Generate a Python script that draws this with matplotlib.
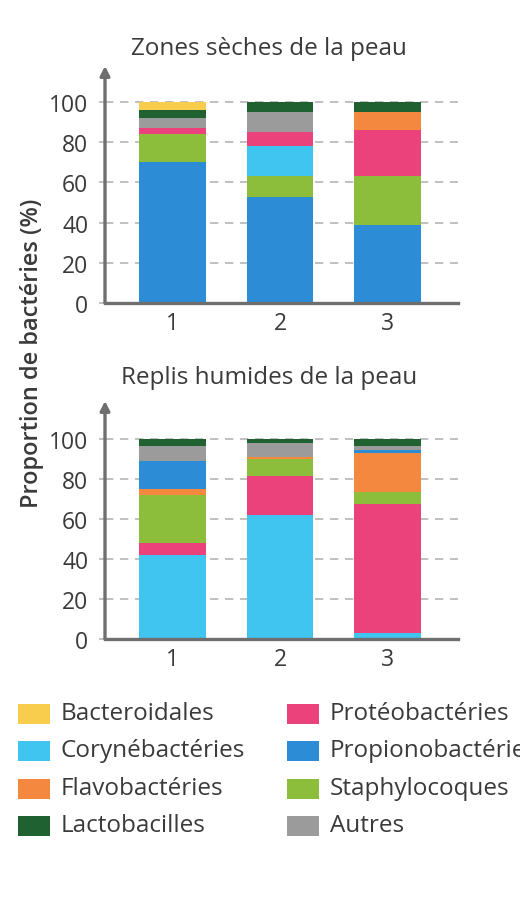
import numpy as np
import matplotlib.pyplot as plt
from matplotlib.patches import Rectangle

plt.rcParams['font.family'] = ['Open Sans', 'DejaVu Sans']

# categories, in legend order (column-wise)
categories = ["Bacteroidales", "Corynébactéries", "Flavobactéries", "Lactobacilles",
              "Protéobactéries", "Propionobactéries", "Staphylocoques", "Autres"]
colors = {"Bacteroidales": "#F8CC4C", "Corynébactéries": "#40C4F0",
          "Flavobactéries": "#F5883F", "Lactobacilles": "#1F6131",
          "Protéobactéries": "#EC427C", "Propionobactéries": "#2C8DD6",
          "Staphylocoques": "#8DBE3B", "Autres": "#9B9B9B"}

samples = ["1", "2", "3"]

# Zones sèches de la peau (%), bottom to top
dry_order = ["Propionobactéries", "Staphylocoques", "Corynébactéries", "Protéobactéries",
             "Flavobactéries", "Autres", "Lactobacilles", "Bacteroidales"]
dry_propiono = [70, 53, 39]
dry_staph = [14, 10, 24]
dry_coryne = [0, 15, 0]
dry_proteo = [3, 7, 23]
dry_flavo = [0, 0, 9]
dry_autres = [5, 10, 0]
dry_lacto = [4, 5, 5]
dry_bactero = [4, 0, 0]

# Replis humides de la peau (%), bottom to top
wet_order = ["Corynébactéries", "Protéobactéries", "Staphylocoques", "Flavobactéries",
             "Propionobactéries", "Autres", "Lactobacilles"]
wet_coryne = [42, 62, 3]
wet_proteo = [6, 19.5, 64.5]
wet_staph = [24, 8.5, 6]
wet_flavo = [3, 1, 19.5]
wet_propiono = [14, 0, 1.5]
wet_autres = [7.5, 7, 2]
wet_lacto = [3.5, 2, 3.5]

dry = {"Propionobactéries": dry_propiono, "Staphylocoques": dry_staph,
       "Corynébactéries": dry_coryne, "Protéobactéries": dry_proteo,
       "Flavobactéries": dry_flavo, "Autres": dry_autres,
       "Lactobacilles": dry_lacto, "Bacteroidales": dry_bactero}
wet = {"Corynébactéries": wet_coryne, "Protéobactéries": wet_proteo,
       "Staphylocoques": wet_staph, "Flavobactéries": wet_flavo,
       "Propionobactéries": wet_propiono, "Autres": wet_autres,
       "Lactobacilles": wet_lacto}

text_c = "#3a3a3a"
axis_c = "#6e6e6e"

fig = plt.figure(figsize=(5.2, 9.03), dpi=100)
W, H = 520, 903


def panel(rect, data, order, title, ymax, title_y):
    ax = fig.add_axes(rect)
    x = np.arange(1, len(samples) + 1)
    bottom = np.zeros(len(samples))
    for name in order:
        vals = np.array(data[name], dtype=float)
        ax.bar(x, vals, bottom=bottom, width=0.62, color=colors[name], linewidth=0)
        bottom += vals
    ax.set_xlim(0.372, 3.656)
    ax.set_ylim(0, ymax)
    ax.set_yticks(np.arange(0, 101, 20))
    ax.set_xticks(x)
    ax.set_xticklabels(samples)
    ax.set_axisbelow(True)
    ax.yaxis.grid(True, color="#b5b5b5", linestyle=(0, (5, 4)), linewidth=1.2)
    for s in ["top", "right", "left"]:
        ax.spines[s].set_visible(False)
    ax.spines["bottom"].set_color(axis_c)
    ax.spines["bottom"].set_linewidth(2.4)
    ax.tick_params(axis="y", length=4, width=1.2, color="#b5b5b5", pad=8,
                   labelsize=16.5, labelcolor=text_c)
    ax.tick_params(axis="x", length=0, pad=6, labelsize=16.5, labelcolor=text_c)
    ax.annotate("", xy=(0, 1), xycoords="axes fraction", xytext=(0, 0),
                arrowprops=dict(arrowstyle="-|>,head_length=0.55,head_width=0.28",
                                color=axis_c, lw=2.4, shrinkA=0, shrinkB=0))
    fig.text(269 / W, 1 - title_y / H, title, ha="center", va="center",
             fontsize=17.5, color=text_c)
    return ax


panel([105 / W, 1 - 304 / H, 353 / W, 237 / H], dry, dry_order,
      "Zones sèches de la peau", 118, 49)
panel([105 / W, 1 - 640 / H, 353 / W, 238 / H], wet, wet_order,
      "Replis humides de la peau", 119, 378)

fig.text(32 / W, 1 - 353 / H, "Proportion de bactéries (%)", rotation=90,
         ha="center", va="center", fontsize=17, fontweight="semibold", color=text_c)

# legend, two columns
row_y = [715, 752, 790, 827]
col_x = [18, 287]
for i, name in enumerate(categories):
    c, r = i // 4, i % 4
    fig.add_artist(Rectangle((col_x[c] / W, 1 - (row_y[r] + 10) / H), 32 / W, 20 / H,
                             transform=fig.transFigure, color=colors[name], lw=0))
    fig.text((col_x[c] + 43) / W, 1 - (row_y[r] - 1) / H, name, ha="left", va="center",
             fontsize=17.5, color=text_c)

fig.savefig("out.png", dpi=100)
